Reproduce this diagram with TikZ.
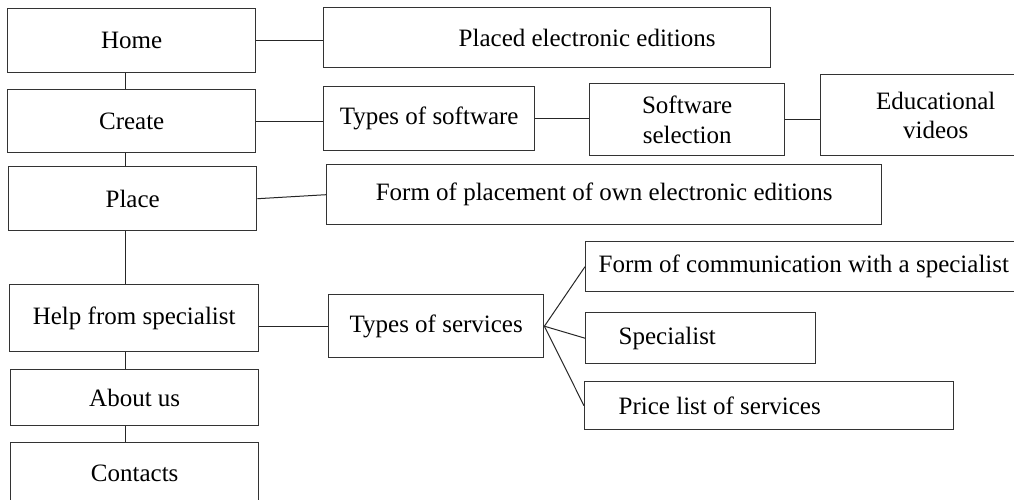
\documentclass[tikz,border=0pt]{standalone}
\usepackage{fontspec}
\setmainfont{Liberation Serif}
\usepackage{tikz}
\colorlet{boxBorder}{black!80}
\colorlet{linkLine}{black!85}

\begin{document}
\begin{tikzpicture}[
  x=1pt,
  y=-1pt,
  font=\fontsize{25}{29.5}\selectfont,
  box/.style 2 args={
    draw=boxBorder,
    line width=1.4pt,
    anchor=north west,
    inner sep=0pt,
    minimum width=#1,
    minimum height=#2,
  },
  padded box/.style n args={3}{
    box={#1}{#2},
    text width=#1pt,
    align=left,
    execute at begin node={\spaceskip=0pt\xspaceskip=0pt\hspace*{#3pt}},
  },
  link/.style={
    draw=linkLine,
    line width=1pt,
  }
]
\useasboundingbox (0,0) rectangle (1014,499);
\clip (0,0) rectangle (1014,499);
\coordinate (spine) at (125,0);
\node[box={248}{64}] (Home) at (7,8) {Home};
\node[box={248}{63}] (Create) at (7,89) {Create};
\node[box={248}{64}] (Place) at (8,166) {Place};
\node[box={249}{67}] (Help) at (9,284) {Help from specialist};
\node[box={248}{56}] (About) at (10,369) {About us};
\node[box={248}{62}] (Contacts) at (10,442) {Contacts};
\foreach \a/\b in {Home/Create,Create/Place,Place/Help,Help/About,About/Contacts}
  \draw[link] (\a.south -| spine) -- (\b.north -| spine);
\node[padded box={447}{60}{135}] (Placed) at (323,7) {Placed electronic editions};
\node[box={211}{64}] (SoftTypes) at (323,86) {Types of software};
\node[box={195}{72}, align=center] (SoftSel) at (589,83) {Software\\selection};
\node[box={230}{81}, align=center] (Videos) at (820,74) {Educational\\videos};
\node[box={555}{60}] (PlaceForm) at (326,164) {Form of placement of own electronic editions};
\node[box={215}{63}] (Services) at (328,294) {Types of services};
\node[padded box={440}{50}{13}] (CommForm) at (585,241) {Form of communication with a specialist};
\node[padded box={230}{51}{33}] (Specialist) at (585,312) {Specialist};
\node[padded box={369}{48}{34}] (Prices) at (584,381) {Price list of services};
\draw[link] (Home.east) -- (Home.east -| Placed.west);
\draw[link] (Create.east) -- (Create.east -| SoftTypes.west);
\draw[link] (SoftTypes.east) -- (SoftTypes.east -| SoftSel.west);
\draw[link] (SoftSel.east) -- (SoftSel.east -| Videos.west);
\draw[link] (Place.east) -- (PlaceForm.west);
\draw[link] (Services.west -| Help.east) -- (Services.west);
\foreach \t in {CommForm,Specialist,Prices}
  \draw[link] (Services.east) -- (\t.west);
\end{tikzpicture}
\end{document}
